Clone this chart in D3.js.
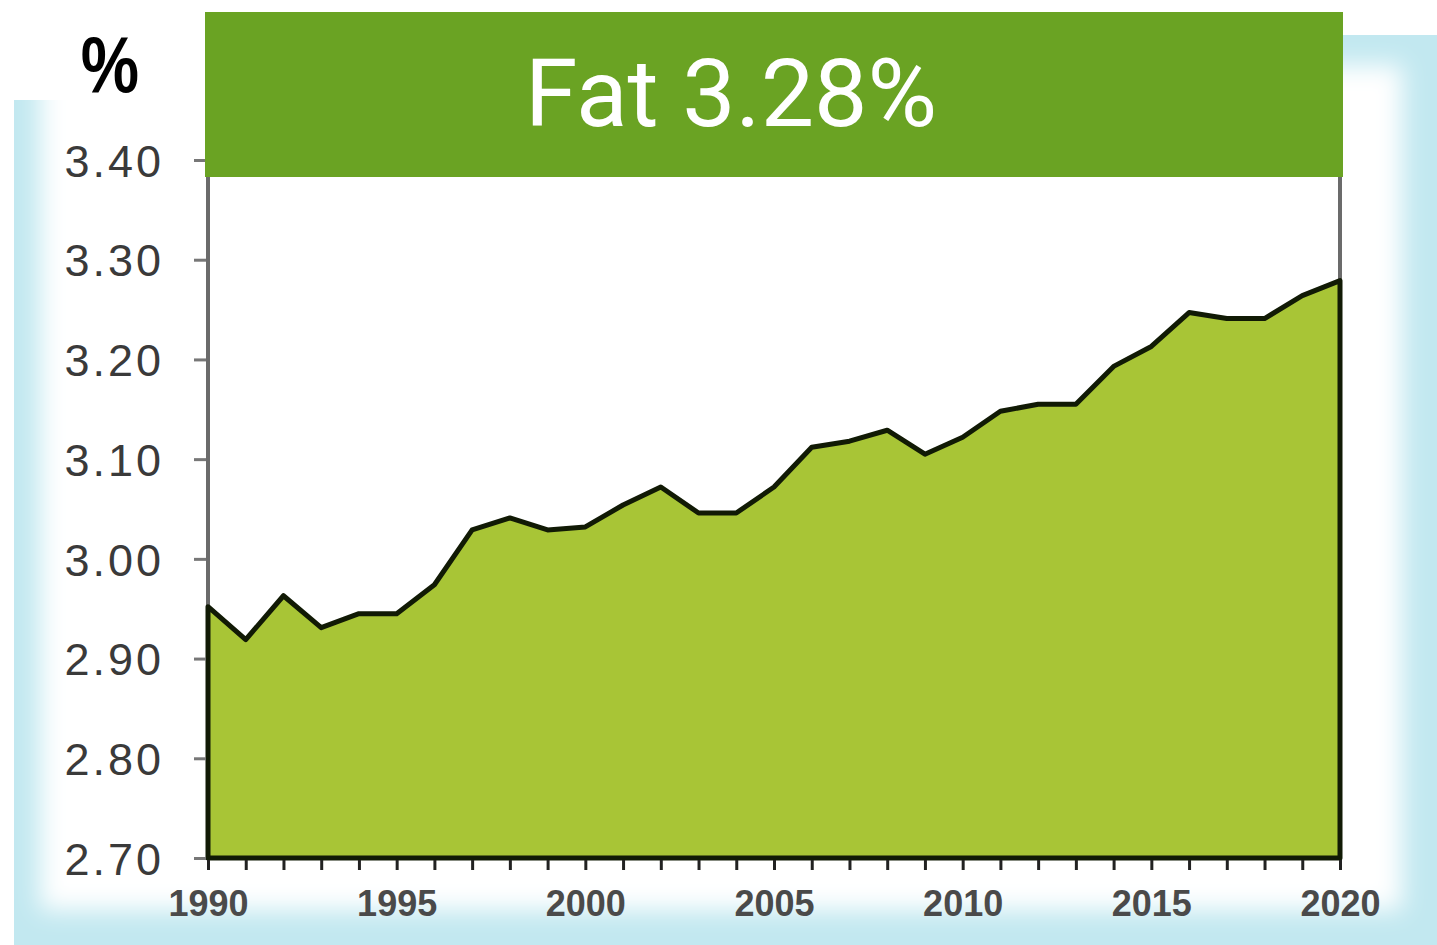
<!DOCTYPE html>
<html>
<head>
<meta charset="utf-8">
<script src="https://cdn.jsdelivr.net/npm/d3@7"></script>
<style>
  body { margin: 0; background: #fff; }
  svg { display: block; }
</style>
</head>
<body>
<svg id="chart" width="1437" height="945"></svg>
<script>
'use strict'

// fat content, % per year
const years = d3.range(1990, 2021)
const fat = [
  2.952, 2.919, 2.963, 2.931, 2.945, 2.945, 2.974, 3.029, 3.041, 3.029,
  3.032, 3.054, 3.072, 3.046, 3.046, 3.072, 3.112, 3.118, 3.129, 3.105,
  3.122, 3.148, 3.155, 3.155, 3.193, 3.213, 3.247, 3.241, 3.241, 3.264,
  3.279
]
const yTicks = [2.7, 2.8, 2.9, 3.0, 3.1, 3.2, 3.3, 3.4]
const xLabels = [1990, 1995, 2000, 2005, 2010, 2015, 2020]
const title = 'Fat 3.28%'
const unit = '%'

const data = years.map((y, i) => ({ year: y, value: fat[i] }))

const svg = d3.select('#chart')
const W = 1437, H = 945

// background panel with soft cyan edges
const defs = svg.append('defs')
defs.append('filter')
    .attr('id', 'soft')
    .attr('x', '-10%').attr('y', '-10%')
    .attr('width', '120%').attr('height', '120%')
  .append('feGaussianBlur')
    .attr('stdDeviation', 12)

svg.append('rect')
    .attr('x', 14).attr('y', 35)
    .attr('width', W - 14).attr('height', H - 35)
    .attr('fill', '#c2e8f0')
svg.append('rect')
    .attr('x', 40).attr('y', 65)
    .attr('width', W - 75).attr('height', H - 100)
    .attr('fill', '#fff')
    .attr('filter', 'url(#soft)')
svg.append('rect')
    .attr('x', 0).attr('y', 0)
    .attr('width', 205).attr('height', 100)
    .attr('fill', '#fff')

const x = d3.scaleLinear()
    .domain([1990, 2020])
    .range([208, 1340])
const y = d3.scaleLinear()
    .domain([2.7, 3.4])
    .range([858, 160])

// frame side lines (gray)
svg.selectAll('.side')
    .data([1990, 2020])
  .enter().append('line')
    .attr('x1', d => x(d)).attr('x2', d => x(d))
    .attr('y1', y(3.4)).attr('y2', y(2.7))
    .style('stroke', '#6b6b6b')
    .style('stroke-width', 4)

// area
const area = d3.area()
    .x(d => x(d.year))
    .y0(y(2.7))
    .y1(d => y(d.value))

svg.append('path')
    .datum(data)
    .attr('d', area)
    .style('fill', '#a8c536')
    .style('stroke', '#111a05')
    .style('stroke-width', 5)
    .style('stroke-linejoin', 'round')

// y axis
const yAxis = svg.append('g')
    .attr('transform', `translate(${x(1990) - 2},0)`)
    .call(d3.axisLeft(y).tickValues(yTicks).tickFormat(d3.format('.2f')).tickSize(12).tickPadding(30))
yAxis.select('.domain').remove()
yAxis.selectAll('line').style('stroke', '#777').style('stroke-width', 3)
yAxis.selectAll('text')
    .style('font-family', '"Liberation Sans", Arial, sans-serif')
    .style('font-size', '45px')
    .style('letter-spacing', '3px')
    .style('fill', '#3a3a3a')
    .attr('dy', '0.36em')

// x axis
const xAxis = svg.append('g')
    .attr('transform', `translate(0,${y(2.7) + 2})`)
    .call(d3.axisBottom(x).tickValues(years).tickFormat(d => xLabels.includes(d) ? d : '').tickSize(10).tickPadding(20))
xAxis.select('.domain').remove()
xAxis.selectAll('line').style('stroke', '#222').style('stroke-width', 3)
xAxis.selectAll('text')
    .style('font-family', '"Liberation Sans", Arial, sans-serif')
    .style('font-weight', 'bold')
    .style('font-size', '36px')
    .style('fill', '#4a4a4a')

// title banner
svg.append('rect')
    .attr('x', 205).attr('y', 12)
    .attr('width', 1138).attr('height', 165)
    .attr('fill', '#6aa323')
svg.append('text')
    .attr('x', 731).attr('y', 126)
    .attr('text-anchor', 'middle')
    .style('font-family', 'Roboto, "Open Sans", sans-serif')
    .style('font-size', '95px')
    .style('fill', '#fff')
    .text(title)

// unit label
svg.append('text')
    .attr('transform', 'translate(110,92) scale(0.82,1)')
    .attr('text-anchor', 'middle')
    .style('font-family', '"Liberation Sans", Arial, sans-serif')
    .style('font-weight', 'bold')
    .style('font-size', '80px')
    .style('fill', '#000')
    .text(unit)
</script>
</body>
</html>
